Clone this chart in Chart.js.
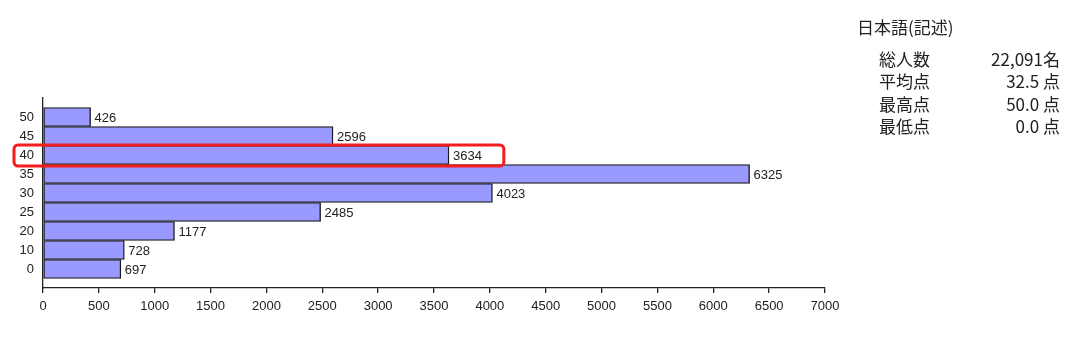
<!DOCTYPE html>
<html>
<head>
<meta charset="utf-8">
<script src="https://cdn.jsdelivr.net/npm/chart.js@4"></script>
<style>
  html, body { margin: 0; padding: 0; background: #fff; }
  #wrap { position: relative; width: 1080px; height: 353px; }
  #stats { position: absolute; left: 0; top: 0; width: 1080px; height: 353px; pointer-events: none;
           font-family: "Noto Sans CJK JP", sans-serif; color: #222; }
  .t { position: absolute; white-space: nowrap; line-height: 1; }
</style>
</head>
<body>
<div id="wrap">
  <canvas id="myChart" width="1080" height="353"></canvas>
  <div id="stats"></div>
</div>
<script>
// score bands, bottom to top
const scores = ['0', '10', '20', '25', '30', '35', '40', '45', '50'];
const counts = [697, 728, 1177, 2485, 4023, 6325, 3634, 2596, 426];
const xTicks = [0, 500, 1000, 1500, 2000, 2500, 3000, 3500, 4000, 4500, 5000, 5500, 6000, 6500, 7000];
const highlightIndex = 6; // the "40" row

const statTitle = '日本語(記述)';
const statNames = ['総人数', '平均点', '最高点', '最低点'];
const statValues = ['22,091名', '32.5 点', '50.0 点', '0.0 点'];

// side stats as real text
const stats = document.getElementById('stats');
let el = document.createElement('div');
el.className = 't';
el.style.cssText = 'left:857px;top:18px;font-size:17px;';
el.textContent = statTitle;
stats.appendChild(el);
statNames.forEach((n, i) => {
    const y = 50 + i * 22.4;
    const a = document.createElement('div');
    a.className = 't';
    a.style.cssText = 'left:879px;top:' + y + 'px;font-size:17px;';
    a.textContent = n;
    stats.appendChild(a);
    const b = document.createElement('div');
    b.className = 't';
    b.style.cssText = 'right:20px;top:' + y + 'px;font-size:17px;text-align:right;';
    b.textContent = statValues[i];
    stats.appendChild(b);
});

const font = 'Liberation Sans, Arial, sans-serif';

// count next to each bar end
const valueLabels = {
    id: 'valueLabels',
    afterDatasetsDraw(chart) {
        const ctx = chart.ctx;
        const meta = chart.getDatasetMeta(0);
        ctx.save();
        ctx.font = '13px ' + font;
        ctx.fillStyle = '#222';
        ctx.textAlign = 'left';
        ctx.textBaseline = 'middle';
        meta.data.forEach((bar, i) => {
            ctx.fillText(String(counts[i]), bar.x + 4, bar.y + 1);
        });
        ctx.restore();
    }
};

// red rounded frame around the highlighted row
const highlightBox = {
    id: 'highlightBox',
    afterDraw(chart) {
        const ctx = chart.ctx;
        const ys = chart.scales.y, xs = chart.scales.x;
        const cy = ys.getPixelForValue(highlightIndex);
        const x0 = chart.chartArea.left - 29;
        const x1 = xs.getPixelForValue(4125);
        ctx.save();
        ctx.strokeStyle = '#f41c1c';
        ctx.lineWidth = 3;
        ctx.beginPath();
        ctx.roundRect(x0, cy - 10, x1 - x0, 21, 4);
        ctx.stroke();
        ctx.restore();
    }
};

const ctx = document.getElementById('myChart').getContext('2d');
const myChart = new Chart(ctx, {
    type: 'bar',
    data: {
        datasets: [{
            data: counts.map((v, i) => ({ x: v, y: i })),
            backgroundColor: '#9999ff',
            borderColor: '#1a1a1a',
            borderWidth: 1.4,
            borderSkipped: false,
            barThickness: 'flex',
            barPercentage: 1,
            categoryPercentage: 1
        }]
    },
    options: {
        indexAxis: 'y',
        responsive: false,
        animation: false,
        layout: { padding: { top: 98, right: 255, left: 0, bottom: 0 } },
        plugins: { legend: { display: false }, tooltip: { enabled: false } },
        scales: {
            x: {
                type: 'linear',
                min: 0,
                max: 7000,
                afterBuildTicks: s => { s.ticks = xTicks.map(v => ({ value: v })); },
                afterFit: s => { s.height = 65; },
                grid: { drawOnChartArea: false, drawTicks: true, tickLength: 5, color: '#222', lineWidth: 1.3 },
                border: { display: true, color: '#222', width: 1.3 },
                ticks: { color: '#222', font: { family: font, size: 13 }, padding: 6, maxRotation: 0, autoSkip: false,
                         callback: v => String(v) }
            },
            y: {
                type: 'linear',
                offset: false,
                min: -1,
                max: 9,
                afterBuildTicks: s => { s.ticks = scores.map((_, i) => ({ value: i })); },
                afterFit: s => { s.width = 43; },
                grid: { display: false, drawTicks: false, offset: false },
                border: { display: true, color: '#222', width: 1.3 },
                ticks: { color: '#222', font: { family: font, size: 13 }, padding: 9, autoSkip: false,
                         callback: v => scores[v] }
            }
        }
    },
    plugins: [valueLabels, highlightBox]
});
</script>
</body>
</html>
